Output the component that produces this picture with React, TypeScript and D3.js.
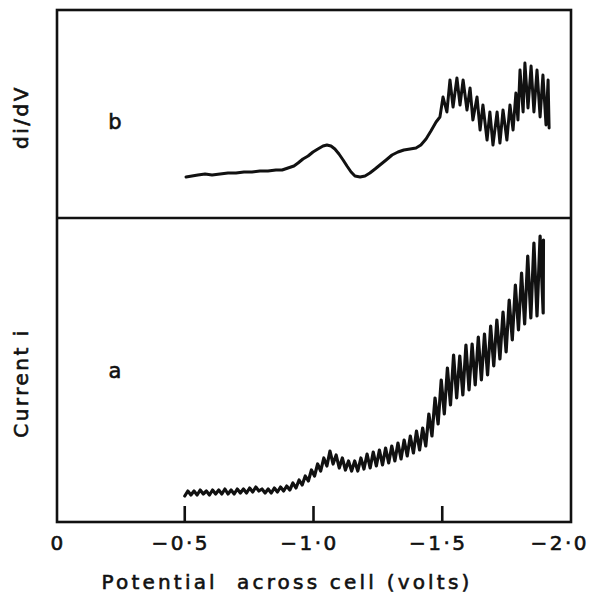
import React from "react";
import * as d3 from "d3";

// ---- Data ----
const xTicks = [0, -0.5, -1.0, -1.5, -2.0];
const xTickLabels = ["0", "\u22120\u00b75", "\u22121\u00b70", "\u22121\u00b75", "\u22122\u00b70"];

// Curve b: di/dV (arbitrary units)
const dIdVVolts = [
  -0.505, -0.528, -0.551, -0.579, -0.606, -0.637, -0.668, -0.699, -0.730, -0.761,
  -0.792, -0.823, -0.854, -0.878, -0.901, -0.924, -0.940, -0.959, -0.979, -0.998,
  -1.017, -1.037, -1.052, -1.068, -1.083, -1.099, -1.115, -1.130, -1.146, -1.161,
  -1.181, -1.200, -1.219, -1.239, -1.258, -1.282, -1.305, -1.328, -1.351, -1.375,
  -1.398, -1.417, -1.437, -1.456, -1.476,
  -1.491, -1.503, -1.518, -1.530, -1.542, -1.557, -1.569, -1.581, -1.596, -1.608,
  -1.619, -1.635, -1.647, -1.658, -1.674, -1.685, -1.697, -1.713, -1.724, -1.736,
  -1.751, -1.763, -1.775, -1.786, -1.794, -1.802, -1.814, -1.821, -1.833, -1.845,
  -1.856, -1.868, -1.880, -1.891, -1.903, -1.911, -1.915,
];
const dIdVValues = [
  41, 42, 43, 44, 43, 44, 45, 45, 46, 46,
  47, 47, 48, 48, 50, 52, 55, 59, 62, 66,
  69, 72, 73, 72, 69, 64, 58, 52, 46, 42,
  41, 42, 45, 49, 53, 58, 63, 66, 68, 69,
  70, 73, 79, 87, 96,
  101, 121, 106, 138, 111, 140, 113, 138, 108, 130,
  98, 121, 88, 113, 78, 106, 73, 106, 75, 108,
  78, 113, 88, 125, 98, 148, 106, 155, 110, 152,
  106, 148, 101, 143, 93, 138, 90,
];

// Curve a: current i (arbitrary units)
const currentVolts = [
  -0.500, -0.512, -0.524, -0.536, -0.548, -0.560, -0.572, -0.584, -0.596, -0.608,
  -0.620, -0.632, -0.644, -0.656, -0.668, -0.680, -0.692, -0.704, -0.716, -0.728,
  -0.740, -0.752, -0.764, -0.776, -0.788, -0.800, -0.812, -0.824, -0.836, -0.848,
  -0.860, -0.872, -0.884, -0.896, -0.908, -0.920, -0.932, -0.944, -0.956, -0.968,
  -0.980, -0.992, -1.004, -1.016, -1.028, -1.040, -1.052, -1.064, -1.076, -1.088,
  -1.100, -1.112, -1.124, -1.136, -1.148, -1.160, -1.172, -1.184, -1.196, -1.208,
  -1.220, -1.232, -1.244, -1.256, -1.268, -1.280, -1.292, -1.304, -1.316, -1.328,
  -1.340, -1.352, -1.364, -1.376, -1.388, -1.400, -1.412, -1.424, -1.436, -1.448,
  -1.460, -1.472, -1.484, -1.496, -1.508, -1.520, -1.532, -1.544, -1.556, -1.568,
  -1.580, -1.592, -1.604, -1.616, -1.628, -1.640, -1.652, -1.664, -1.676, -1.688,
  -1.700, -1.712, -1.724, -1.736, -1.748, -1.760, -1.772, -1.784, -1.796, -1.808,
  -1.820, -1.832, -1.844, -1.856, -1.868, -1.880, -1.892, -1.893,
];
const currentValues = [
  26, 31, 27, 31, 27, 32, 28, 31, 27, 32,
  28, 32, 28, 33, 28, 32, 28, 33, 29, 33,
  29, 34, 30, 35, 31, 33, 29, 33, 29, 34,
  30, 35, 31, 36, 32, 39, 34, 42, 37, 46,
  41, 52, 46, 58, 51, 64, 56, 71, 58, 67,
  54, 64, 52, 61, 51, 61, 51, 64, 53, 68,
  54, 70, 56, 72, 57, 74, 59, 76, 61, 79,
  63, 82, 66, 86, 69, 91, 72, 94, 76, 108,
  86, 124, 98, 142, 108, 154, 117, 167, 124, 166,
  127, 177, 132, 178, 137, 185, 142, 188, 147, 196,
  156, 202, 163, 210, 170, 222, 182, 237, 192, 249,
  198, 266, 204, 279, 206, 286, 209, 282,
];

const W = 590;
const H = 596;
const FONT = "'DejaVu Sans', sans-serif";
const INK = "#111";

export default function App() {
  const left = 57, right = 571, top = 10, mid = 218, bottom = 522;

  const x = d3.scaleLinear().domain([0, -2]).range([56, 571]);
  const yB = d3.scaleLinear().domain([0, 208]).range([mid, top]);
  const yA = d3.scaleLinear().domain([0, 304]).range([bottom, mid]);

  const lineB = d3
    .line<number>()
    .x((_, i) => x(dIdVVolts[i]))
    .y((d) => yB(d));
  const lineA = d3
    .line<number>()
    .x((_, i) => x(currentVolts[i]))
    .y((d) => yA(d));

  const textStyle = {
    fontFamily: FONT,
    fill: INK,
    stroke: INK,
    strokeWidth: 0.6,
  } as const;

  return (
    <svg width={W} height={H} style={{ position: "absolute", left: 0, top: 0, background: "#fff" }}>
      <rect x={0} y={0} width={W} height={H} fill="#fff" />
      {/* frame */}
      <rect x={left} y={top} width={right - left} height={bottom - top} fill="none" stroke={INK} strokeWidth={2.6} />
      <line x1={left} x2={right} y1={mid} y2={mid} stroke={INK} strokeWidth={2.6} />

      {/* ticks */}
      {xTicks.slice(1, 4).map((t) => (
        <line key={t} x1={x(t)} x2={x(t)} y1={bottom} y2={bottom - 16} stroke={INK} strokeWidth={2.6} />
      ))}
      {xTicks.map((t, i) => (
        <text
          key={"l" + t}
          x={i === 0 ? x(t) + 2 : i === 4 ? 589 : x(t) - 4}
          y={550}
          textAnchor={i === 4 ? "end" : "middle"}
          fontSize={20}
          letterSpacing={2.5}
          {...textStyle}
        >
          {xTickLabels[i]}
        </text>
      ))}

      {/* curves */}
      <path d={lineB(dIdVValues) || ""} fill="none" stroke={INK} strokeWidth={3} strokeLinejoin="round" strokeLinecap="round" />
      <path d={lineA(currentValues) || ""} fill="none" stroke={INK} strokeWidth={3.2} strokeLinejoin="round" strokeLinecap="round" />

      {/* panel letters */}
      <text x={115} y={129} textAnchor="middle" fontSize={21} {...textStyle}>b</text>
      <text x={115} y={378} textAnchor="middle" fontSize={21} {...textStyle}>a</text>

      {/* y labels */}
      <text
        transform={`translate(28,117) rotate(-90)`}
        textAnchor="middle"
        fontSize={20}
        letterSpacing={2.5}
        {...textStyle}
      >
        di/dV
      </text>
      <text
        transform={`translate(28,383) rotate(-90)`}
        textAnchor="middle"
        fontSize={20}
        letterSpacing={2.5}
        {...textStyle}
      >
        Current i
      </text>

      {/* x label */}
      <text
        x={287}
        y={589}
        textAnchor="middle"
        fontSize={20}
        letterSpacing={3.2}
        style={{ whiteSpace: "pre" }}
        {...textStyle}
      >
        {"Potential  across cell (volts)"}
      </text>
    </svg>
  );
}
